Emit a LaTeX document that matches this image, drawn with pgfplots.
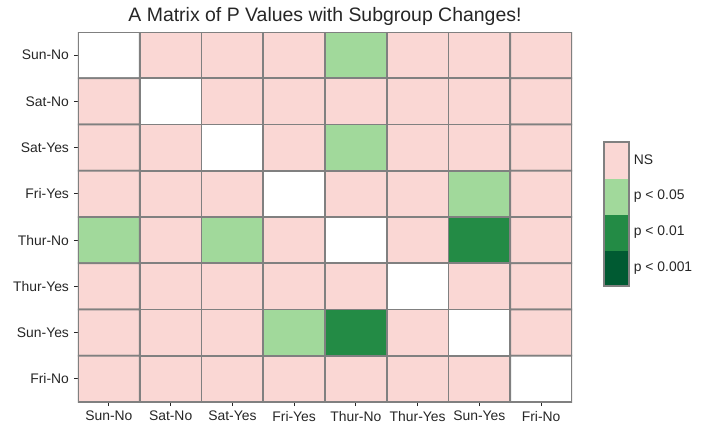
\documentclass[border=0pt]{standalone}
\usepackage{fontspec}
\setmainfont{Liberation Sans}
\usepackage{pgfplots}
\pgfplotsset{compat=1.18}
\definecolor{txt}{RGB}{38,38,38}
\definecolor{edge}{RGB}{128,128,128}
\begin{document}
\begin{tikzpicture}
\path[use as bounding box] (-56.16pt,-23.76pt) rectangle (449.28pt,289.44pt);
\begin{axis}[
  at={(0pt,0pt)}, anchor=south west,
  scale only axis, width=355.7pt, height=266.4pt,
  xmin=-0.5, xmax=7.5, ymin=-0.5, ymax=7.5,
  y dir=reverse,
  axis line style={draw=none},
  colormap={pv}{rgb255=(255,255,255) rgb255=(0,90,50) rgb255=(35,139,69) rgb255=(161,217,155) rgb255=(250,215,212)},
  colormap access=direct,
  xtick={0,...,7}, ytick={0,...,7},
  xticklabels={Sun-No,Sat-No,Sat-Yes,Fri-Yes,Thur-No,Thur-Yes,Sun-Yes,Fri-No},
  yticklabels={Sun-No,Sat-No,Sat-Yes,Fri-Yes,Thur-No,Thur-Yes,Sun-Yes,Fri-No},
  xtick pos=bottom, ytick pos=left,
  tick align=outside, major tick length=3pt,
  tick style={color=txt, line width=0.6pt},
  ticklabel style={font=\fontsize{10}{12}\selectfont, text=txt},
  title={A Matrix of P Values with Subgroup Changes!},
  title style={font=\fontsize{14}{16}\selectfont, text=txt, yshift=-5pt},
]
\addplot[matrix plot*, mesh/cols=8, point meta=explicit, draw=edge, line width=1.15pt] table[meta=c] {
x y c
0 0 0
1 0 4
2 0 4
3 0 4
4 0 3
5 0 4
6 0 4
7 0 4
0 1 4
1 1 0
2 1 4
3 1 4
4 1 4
5 1 4
6 1 4
7 1 4
0 2 4
1 2 4
2 2 0
3 2 4
4 2 3
5 2 4
6 2 4
7 2 4
0 3 4
1 3 4
2 3 4
3 3 0
4 3 4
5 3 4
6 3 3
7 3 4
0 4 3
1 4 4
2 4 3
3 4 4
4 4 0
5 4 4
6 4 2
7 4 4
0 5 4
1 5 4
2 5 4
3 5 4
4 5 4
5 5 0
6 5 4
7 5 4
0 6 4
1 6 4
2 6 4
3 6 3
4 6 2
5 6 4
6 6 0
7 6 4
0 7 4
1 7 4
2 7 4
3 7 4
4 7 4
5 7 4
6 7 4
7 7 0
};
\end{axis}
\begin{axis}[
  at={(378.72pt,83.52pt)}, anchor=south west,
  scale only axis, width=18pt, height=103.7pt,
  xmin=-0.5, xmax=1.5, ymin=-0.5, ymax=3.5,
  axis line style={draw=edge, line width=0.8pt},
  colormap={pv}{rgb255=(255,255,255) rgb255=(0,90,50) rgb255=(35,139,69) rgb255=(161,217,155) rgb255=(250,215,212)},
  colormap access=direct,
  xtick=\empty,
  ytick={0,1,2,3},
  yticklabels={p < 0.001, p < 0.01, p < 0.05, NS},
  yticklabel pos=right,
  major tick length=0pt,
  ticklabel style={font=\fontsize{10}{12}\selectfont, text=txt},
  axis on top,
]
\addplot[matrix plot*, mesh/cols=2, point meta=explicit, draw=none] table[meta=c] {
x y c
0 0 1
1 0 1
0 1 2
1 1 2
0 2 3
1 2 3
0 3 4
1 3 4
};
\end{axis}
\end{tikzpicture}
\end{document}
